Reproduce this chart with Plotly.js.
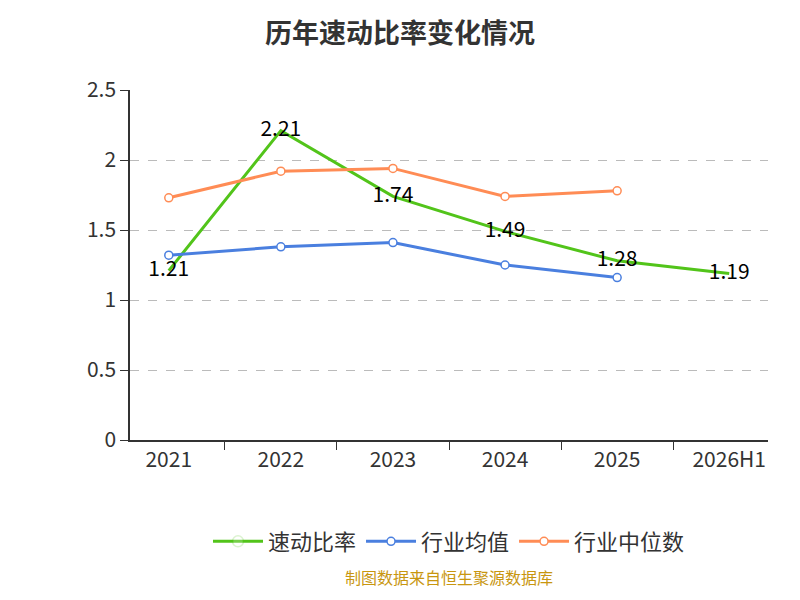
<!DOCTYPE html>
<html>
<head>
<meta charset="utf-8">
<script src="https://cdn.plot.ly/plotly-3.0.1.min.js"></script>
<style>body{margin:0}#chart{width:800px;height:600px}</style>
</head>
<body>
<div id="chart"></div>
<script>
const years = ['2021', '2022', '2023', '2024', '2025', '2026H1'];
const quickRatio = [1.21, 2.21, 1.74, 1.49, 1.28, 1.19];
const industryMean = [1.32, 1.38, 1.41, 1.25, 1.16];
const industryMedian = [1.73, 1.92, 1.94, 1.74, 1.78];

const FONT = 'Noto Sans CJK SC, Noto Sans, sans-serif';

const data = [
  {
    x: years, y: quickRatio, name: '速动比率', type: 'scatter', mode: 'lines+markers+text',
    text: quickRatio.map(v => v.toFixed(2)), textposition: 'middle center',
    textfont: { size: 21, color: '#000', family: FONT },
    line: { color: '#52c41a', width: 3 },
    marker: { size: 11, color: '#fff', line: { color: '#52c41a', width: 1.5 }, opacity: 0 },
  },
  {
    x: years.slice(0, 5), y: industryMean, name: '行业均值', type: 'scatter', mode: 'lines+markers',
    line: { color: '#4a7fdf', width: 3 },
    marker: { size: 8, color: '#fff', line: { color: '#4a7fdf', width: 1.5 } },
  },
  {
    x: years.slice(0, 5), y: industryMedian, name: '行业中位数', type: 'scatter', mode: 'lines+markers',
    line: { color: '#ff8c55', width: 3 },
    marker: { size: 8, color: '#fff', line: { color: '#ff8c55', width: 1.5 } },
  },
];

const layout = {
  width: 800, height: 600,
  margin: { l: 130, r: 32, t: 90, b: 160 },
  paper_bgcolor: '#fff', plot_bgcolor: '#fff',
  font: { family: FONT, color: '#333' },
  title: { text: '<b>历年速动比率变化情况</b>', x: 0.5, y: 0.96, font: { size: 27, color: '#333' } },
  xaxis: {
    type: 'category', tickson: 'boundaries', ticks: 'outside', ticklen: 8, tickcolor: '#333',
    showline: true, linecolor: '#333', linewidth: 1.5, showgrid: false,
    tickfont: { size: 21, color: '#333' },
  },
  yaxis: {
    range: [0, 2.5], dtick: 0.5, ticks: 'outside', ticklen: 8, tickcolor: '#333',
    showline: true, linecolor: '#333', linewidth: 1.5,
    gridcolor: '#bbb', griddash: 'dash', zeroline: false,
    tickfont: { size: 21, color: '#333' },
  },
  showlegend: true,
  legend: {
    orientation: 'h', x: 0.5, xanchor: 'center', y: -0.23, yanchor: 'top',
    font: { size: 22, color: '#333' }, itemwidth: 50,
  },
  annotations: [{
    text: '制图数据来自恒生聚源数据库', xref: 'paper', yref: 'paper', x: 0.5, y: -0.43,
    showarrow: false, font: { size: 16, color: '#c8960f' },
  }],
};

Plotly.newPlot('chart', data, layout, { displayModeBar: false });
</script>
</body>
</html>
